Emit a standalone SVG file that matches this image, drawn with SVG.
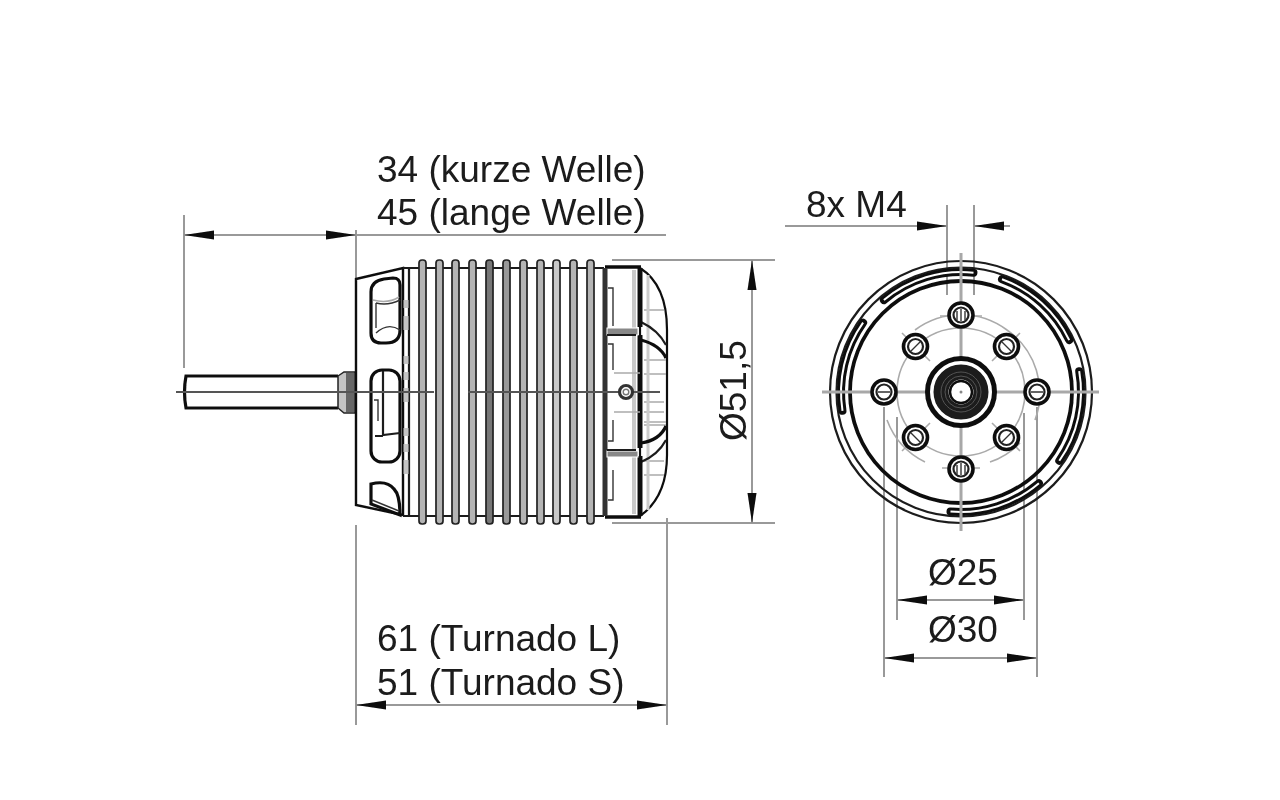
<svg xmlns="http://www.w3.org/2000/svg" width="1280" height="800" viewBox="0 0 1280 800">
<style>
text{font-family:"Liberation Sans",Arial,sans-serif;font-size:37px;fill:#1a1a1a}
.dim{stroke:#999;stroke-width:2;fill:none}
.arr{stroke:#999;stroke-width:2;fill:none;marker-end:url(#ah)}
.arr2{stroke:#999;stroke-width:2;fill:none;marker-start:url(#ahs);marker-end:url(#ah)}
.cl{stroke:#a8a8a8;stroke-width:3;fill:none}
.k{stroke:#1c1c1c;stroke-width:2.2;fill:none}
.k3{stroke:#111;stroke-width:3.2;fill:none}
.k1{stroke:#333;stroke-width:1.4;fill:none}
.g{stroke:#aaa;stroke-width:1.6;fill:none}
.fin{fill:#b4b4b4;stroke:#222;stroke-width:1.7}
.slot{stroke:#111;stroke-width:8;fill:none;stroke-linecap:round}
.slotw{stroke:#fff;stroke-width:2;fill:none}
</style>
<defs>
<marker id="ah" markerUnits="userSpaceOnUse" markerWidth="32" markerHeight="12" refX="30" refY="5" orient="auto"><path d="M0,0.5 L30,5 L0,9.5 Z" fill="#0c0c0c"/></marker>
<marker id="ahs" markerUnits="userSpaceOnUse" markerWidth="32" markerHeight="12" refX="0" refY="5" orient="auto"><path d="M30,0.5 L0,5 L30,9.5 Z" fill="#0c0c0c"/></marker>
<g id="bolt"><circle r="12" fill="#fff" stroke="#111" stroke-width="3.6"/><circle r="7.5" fill="#fff" stroke="#222" stroke-width="2.2"/></g>
<filter id="soft" x="0" y="0" width="100%" height="100%"><feGaussianBlur stdDeviation="0.45"/></filter>
</defs>
<rect width="1280" height="800" fill="#fff"/>
<g filter="url(#soft)">
<g id="connectors">
<line class="dim" x1="184" y1="215" x2="184" y2="368"/>
<line class="dim" x1="356" y1="230" x2="356" y2="278"/>
<line class="dim" x1="356" y1="235" x2="666" y2="235"/>
<line class="arr2" x1="184" y1="235" x2="356" y2="235"/>
<line class="dim" x1="356" y1="525" x2="356" y2="725"/>
<line class="dim" x1="667" y1="518" x2="667" y2="725"/>
<line class="arr2" x1="356" y1="705" x2="667" y2="705"/>
<line class="dim" x1="612" y1="260" x2="775" y2="260"/>
<line class="dim" x1="612" y1="523" x2="775" y2="523"/>
<line class="arr2" x1="752" y1="260" x2="752" y2="523"/>
<line class="dim" x1="947" y1="205" x2="947" y2="295"/>
<line class="dim" x1="974" y1="205" x2="974" y2="295"/>
<line class="arr" x1="785" y1="226" x2="947" y2="226"/>
<line class="arr" x1="1010" y1="226" x2="974" y2="226"/>
<line class="dim" x1="884" y1="407" x2="884" y2="677"/>
<line class="dim" x1="1037" y1="407" x2="1037" y2="677"/>
<line class="dim" x1="897" y1="417" x2="897" y2="620"/>
<line class="dim" x1="1024" y1="413" x2="1024" y2="620"/>
<line class="arr2" x1="897" y1="600" x2="1024" y2="600"/>
<line class="arr2" x1="884" y1="658" x2="1037" y2="658"/>
</g>

<g id="side-view">
<path class="k3" d="M338,376 H186 Q183,392 186,408 H338" fill="#fff"/>
<path d="M338,376 L344,372 H355 V413 H344 L338,408 Z" fill="#c4c4c4" stroke="#222" stroke-width="1.5"/>
<rect x="346" y="373" width="8" height="39" fill="#666"/>
<path d="M356,279 L403,268 V515 L356,505 Z" fill="#fff" stroke="#111" stroke-width="2.4"/>
<path class="k3" d="M371,292 Q371,281 384,279 L393,278 Q400,278 400,285 V330 Q400,343 386,343 H381 Q371,343 371,333 Z"/>
<path class="k1" d="M376,303 Q388,306 400,300 M376,303 V328 M376,333 Q388,322 400,330"/>
<path class="g" d="M373,300 Q388,304 399,297"/>
<rect x="371" y="370" width="29" height="92" rx="11" class="k3"/>
<path class="k" d="M383,371 V435 L400,433 M383,436 H375"/>
<path class="k1" d="M374,400 H378 V421"/>
<path class="k3" d="M371,484 Q387,480 394,489 Q400,495 400,515 L371,504 Z"/>
<path class="k1" d="M372,500 L399,511"/>
<path class="k" d="M403,268 H409 V516 H403"/>
<path stroke="#c4c4c4" stroke-width="5" stroke-dasharray="8 8 14 26 8 8" d="M406,300 V500" fill="none"/>
<path class="k" d="M409,268 H604 M409,516 H604"/>
<g id="fins">
<rect class="fin" x="419" y="260" width="7" height="264" rx="3"/>
<rect class="fin" x="436" y="260" width="7" height="264" rx="3"/>
<rect class="fin" x="452" y="260" width="7" height="264" rx="3"/>
<rect class="fin" x="469" y="260" width="7" height="264" rx="3"/>
<rect class="fin" x="486" y="260" width="7" height="264" rx="3" style="fill:#777"/>
<rect class="fin" x="503" y="260" width="7" height="264" rx="3" style="fill:#999"/>
<rect class="fin" x="520" y="260" width="7" height="264" rx="3"/>
<rect class="fin" x="537" y="260" width="7" height="264" rx="3"/>
<rect class="fin" x="553" y="260" width="7" height="264" rx="3" style="fill:#c8c8c8"/>
<rect class="fin" x="570" y="260" width="7" height="264" rx="3"/>
<rect class="fin" x="587" y="260" width="7" height="264" rx="3"/>
</g>
<path d="M640,268 Q667,285 667,330 V455 Q667,497 640,516 Z" fill="#fff" stroke="#111" stroke-width="2.2"/>
<path class="g" d="M644,310 H664 M644,360 H666 M644,374 H666 M644,402 H664 M644,412 H664 M644,422 H666 M644,425 H666 M644,461 H664 M644,475 H664"/>
<path stroke="#ccc" stroke-width="3" d="M648,275 V510" fill="none"/>
<path class="k" d="M641,322 Q658,330 666,345 M641,462 Q658,455 666,440"/>
<path class="k3" d="M641,340 Q660,345 666,358 M641,443 Q660,440 666,426"/>
<path d="M605,267 H641 M605,517 H641" stroke="#111" stroke-width="3.4" fill="none"/>
<path d="M605,268 V516" stroke="#333" stroke-width="5" fill="none"/>
<path d="M640,268 V327 M640,335 V448 M640,456 V516" stroke="#111" stroke-width="5" fill="none"/>
<path stroke="#c8c8c8" stroke-width="4" d="M634,270 V514" fill="none"/>
<rect x="607" y="328" width="31" height="7" fill="#888" stroke="#fff" stroke-width="1"/>
<rect x="607" y="451" width="31" height="6" fill="#888" stroke="#fff" stroke-width="1"/>
<path class="k" d="M607,335 H636 M607,450 H636"/>
<path class="k1" d="M608,288 H613 V326 M608,344 H613 V370 M613,420 V441 H608 M608,500 H613 V470"/>
<path class="g" d="M614,373 H640 M614,412 H640"/>
<path d="M176,392 H434 M468,392 H660" stroke="#555" stroke-width="2" fill="none"/>
<circle cx="626" cy="392" r="6.5" fill="#fff" stroke="#333" stroke-width="3.2"/>
<circle cx="626" cy="392" r="2.8" fill="#fff" stroke="#777" stroke-width="1.4"/>
</g>

<g id="end-view">
<circle class="k" cx="961" cy="392" r="131"/>
<circle class="k" cx="961" cy="392" r="124.5"/>
<circle cx="961" cy="392" r="111" fill="none" stroke="#111" stroke-width="3.8"/>
<g id="slots">
<path class="slot" d="M973.5,272.7 A120,120 0 0 0 883.9,300.1"/><path class="slotw" d="M973.5,272.7 A120,120 0 0 0 883.9,300.1"/>
<path class="slot" d="M1002,279.2 A120,120 0 0 1 1069.2,340.1"/><path class="slotw" d="M1002,279.2 A120,120 0 0 1 1069.2,340.1"/>
<path class="slot" d="M1079.2,371.2 A120,120 0 0 1 1059.3,460.8"/><path class="slotw" d="M1079.2,371.2 A120,120 0 0 1 1059.3,460.8"/>
<path class="slot" d="M1038.9,483.2 A120,120 0 0 1 950.5,511.5"/><path class="slotw" d="M1038.9,483.2 A120,120 0 0 1 950.5,511.5"/>
<path class="slot" d="M842.5,410.8 A120,120 0 0 1 863.1,322.7"/><path class="slotw" d="M842.5,410.8 A120,120 0 0 1 863.1,322.7"/>
</g>
<path class="cl" d="M822,392 H1099 M961,253 V531"/>
<circle class="g" cx="961" cy="392" r="64"/>
<path class="g" d="M915,330 A77,77 0 0 1 1007,330 A77,77 0 0 1 1035,420 M1020,443 A77,77 0 0 1 990,462 M887,420 A77,77 0 0 0 925,462"/>
<path class="g" d="M902,333 L930,361 M1020,333 L992,361 M902,451 L930,423 M1020,451 L992,423 M940,316 H982 M942,468 H980"/>
<g id="bolts">
<use href="#bolt" x="961" y="315"/>
<use href="#bolt" x="961" y="469"/>
<use href="#bolt" x="884" y="392"/>
<use href="#bolt" x="1037" y="392"/>
<use href="#bolt" x="915.5" y="346.5"/>
<use href="#bolt" x="1006.5" y="346.5"/>
<use href="#bolt" x="915.5" y="437.5"/>
<use href="#bolt" x="1006.5" y="437.5"/>
<path class="k1" d="M961,309 V321 M957,311 V320 M965,311 V320 M961,463 V475 M957,465 V474 M965,465 V474 M878,392 H890 M1031,392 H1043 M911,351 L920,342 M1002,342 L1011,351 M911,433 L920,442 M1002,442 L1011,433"/>
</g>
<g id="hub">
<circle cx="961" cy="392" r="33.5" fill="#fff" stroke="#111" stroke-width="5"/>
<circle cx="961" cy="392" r="20" fill="none" stroke="#1a1a1a" stroke-width="15"/>
<circle cx="961" cy="392" r="20" fill="none" stroke="#555" stroke-width="1"/>
<circle cx="961" cy="392" r="16" fill="none" stroke="#555" stroke-width="1"/>
<circle cx="961" cy="392" r="11" fill="#fff" stroke="#111" stroke-width="2.5"/>
<circle cx="961" cy="392" r="1.5" fill="#888"/>
</g>
</g>

<g id="labels">
<text x="377" y="182">34 (kurze Welle)</text>
<text x="377" y="225">45 (lange Welle)</text>
<text x="377" y="651">61 (Turnado L)</text>
<text x="377" y="695">51 (Turnado S)</text>
<text x="806" y="217">8x M4</text>
<text transform="translate(746,441) rotate(-90)">Ø51,5</text>
<text x="928" y="585">Ø25</text>
<text x="928" y="642">Ø30</text>
</g>
</g>
</svg>
